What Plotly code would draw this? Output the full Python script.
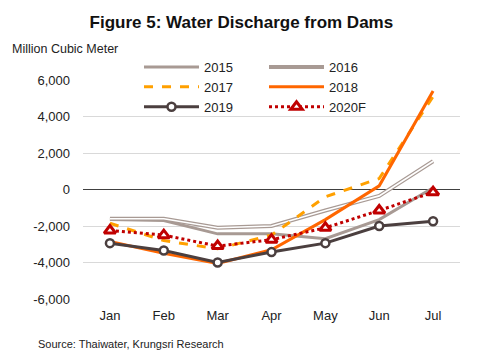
import plotly.graph_objects as go

months = ["Jan", "Feb", "Mar", "Apr", "May", "Jun", "Jul"]
y2015 = [-1650, -1700, -2430, -2430, -2700, -1650, 100]
y2016 = [-1600, -1600, -2100, -2000, -1150, -350, 1550]
y2017 = [-1850, -2800, -3250, -2500, -400, 600, 5100]
y2018 = [-2850, -3500, -4050, -3300, -1650, 200, 5400]
y2019 = [-2940, -3340, -4000, -3430, -2940, -2000, -1740]
y2020 = [-2250, -2500, -3100, -2750, -2100, -1150, -150]
yticks = [-6000, -4000, -2000, 0, 2000, 4000, 6000]
ytick_text = ["-6,000", "-4,000", "-2,000", "0", "2,000", "4,000", "6,000"]

FONT = "Liberation Sans"
fig = go.Figure()

fig.add_trace(go.Scatter(x=months, y=y2015, name="2015", mode="lines",
                         line=dict(color="#A89A94", width=3), legend="legend"))
fig.add_trace(go.Scatter(x=months, y=y2016, name="2016", mode="lines",
                         line=dict(color="#A89A94", width=4), legend="legend2"))
fig.add_trace(go.Scatter(x=months, y=y2016, name="2016", mode="lines", showlegend=False,
                         line=dict(color="white", width=1.6), hoverinfo="skip"))
fig.add_trace(go.Scatter(x=months, y=y2017, name="2017", mode="lines",
                         line=dict(color="#FFA000", width=3, dash="dash"), legend="legend"))
fig.add_trace(go.Scatter(x=months, y=y2018, name="2018", mode="lines",
                         line=dict(color="#FF6600", width=3), legend="legend2"))
fig.add_trace(go.Scatter(x=months, y=y2019, name="2019", mode="lines+markers",
                         line=dict(color="#4B3F3F", width=3),
                         marker=dict(symbol="circle", size=8, color="white",
                                     line=dict(color="#4B3F3F", width=2.5)),
                         legend="legend"))
fig.add_trace(go.Scatter(x=months, y=y2020, name="2020F", mode="lines+markers",
                         line=dict(color="#C00000", width=3, dash="dot"),
                         marker=dict(symbol="triangle-up", size=10, color="white",
                                     line=dict(color="#C00000", width=3)),
                         legend="legend2"))

W, H = 478, 359
L, R, T, B = 83, 18, 40, 60
PLOT_TOP = 80
pw = W - L - R
paper_h = H - T - B
plot_h = H - B - PLOT_TOP

def px_x(x):
    return (x - L) / pw

def px_y(y):
    return (H - B - y) / paper_h

legend_common = dict(font=dict(family=FONT, size=13, color="#222222"),
                     bgcolor="rgba(0,0,0,0)", itemwidth=55,
                     xanchor="left", yanchor="top", tracegroupgap=0,
                     orientation="v")

fig.update_layout(
    width=W, height=H,
    margin=dict(l=L, r=R, t=T, b=B),
    paper_bgcolor="white", plot_bgcolor="white",
    font=dict(family=FONT, size=13, color="#222222"),
    title=dict(text="<b>Figure 5: Water Discharge from Dams</b>",
               font=dict(family=FONT, size=17, color="#111111"),
               x=0.505, xref="container", xanchor="center",
               y=1 - 22 / H, yref="container", yanchor="middle"),
    legend=dict(x=px_x(139), y=px_y(52), **legend_common),
    legend2=dict(x=px_x(264), y=px_y(52), **legend_common),
    xaxis=dict(range=[-0.5, 6.5], showgrid=False, showline=False, ticks="",
               tickfont=dict(family=FONT, size=13, color="#222222"),
               ticklabelstandoff=7, zeroline=False),
    yaxis=dict(range=[-6000, 6000], tickvals=yticks, ticktext=ytick_text,
               domain=[0, plot_h / paper_h],
               showgrid=True, gridcolor="#D9D9D9", gridwidth=1,
               zeroline=True, zerolinecolor="#404040", zerolinewidth=1,
               showline=False, ticks="", ticklabelstandoff=12,
               tickfont=dict(family=FONT, size=13, color="#222222")),
    showlegend=True,
)

fig.add_annotation(text="Million Cubic Meter", xref="paper", yref="paper",
                   x=px_x(10), y=px_y(49), xanchor="left", yanchor="middle",
                   showarrow=False, font=dict(family=FONT, size=12.5, color="#222222"))
fig.add_annotation(text="Source: Thaiwater, Krungsri Research", xref="paper", yref="paper",
                   x=px_x(36), y=px_y(344), xanchor="left", yanchor="middle",
                   showarrow=False, font=dict(family=FONT, size=11, color="#222222"))

fig.write_html("out.html", config={"displayModeBar": False},
               post_script="document.body.style.margin='0';")
